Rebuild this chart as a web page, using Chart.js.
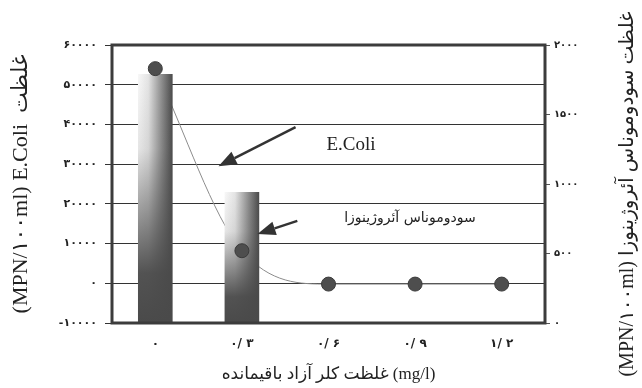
<!DOCTYPE html>
<html>
<head>
<meta charset="utf-8">
<script src="https://cdn.jsdelivr.net/npm/chart.js@4.4.0/dist/chart.umd.min.js"></script>
<style>
  html, body { margin: 0; background: #fff; }
</style>
</head>
<body>
<canvas id="chart" width="642" height="388"></canvas>
<script>
// chart data
const chlorineLabels = ['۰', '۰/ ۳', '۰/ ۶', '۰/ ۹', '۱/ ۲'];
const ecoliValues = [52700, 23000, null, null, null];          // left axis
const pseudomonasValues = [1830, 520, 280, 280, 280];          // right axis
const leftRange = [-10000, 60000, 10000];
const rightRange = [0, 2000, 500];

// callouts, placed in data units (category index, left axis value)
const callouts = [
    { text: 'E.Coli', at: [2.26, 34800], tail: [1.62, 39300], head: [0.73, 29500], font: '19px "Liberation Serif"' },
    { text: 'سودوموناس آئروژینوزا', at: [2.94, 16450], tail: [1.64, 15700], head: [1.18, 12400], font: '14px "DejaVu Sans"' }
];

const serif = '"Liberation Serif", "DejaVu Sans", serif';
const faDigits = '۰۱۲۳۴۵۶۷۸۹';
const toFa = v => String(v).replace(/\d/g, d => faDigits[d]);

function barShade(context) {
    const chart = context.chart;
    const v = context.raw;
    if (!chart.chartArea || v == null) return '#555';
    const xs = chart.scales.x, ys = chart.scales.y;
    const w = xs.width / chlorineLabels.length * 0.4;
    const cx = xs.getPixelForValue(context.dataIndex);
    const left = cx - w / 2, right = cx + w / 2;
    const top = ys.getPixelForValue(v), bottom = ys.getPixelForValue(leftRange[0]);

    const off = document.createElement('canvas');
    off.width = chart.width;
    off.height = chart.height;
    const g = off.getContext('2d');
    const hg = g.createLinearGradient(left, 0, right, 0);
    hg.addColorStop(0, '#f8f8f8');
    hg.addColorStop(0.3, '#e4e4e4');
    hg.addColorStop(0.7, '#8a8a8a');
    hg.addColorStop(1, '#4a4a4a');
    g.fillStyle = hg;
    g.fillRect(left - 2, top - 2, w + 4, bottom - top + 4);
    const vg = g.createLinearGradient(0, top, 0, bottom);
    vg.addColorStop(0, 'rgba(74,74,74,0)');
    vg.addColorStop(0.3, 'rgba(74,74,74,0.1)');
    vg.addColorStop(0.8, 'rgba(74,74,74,0.95)');
    vg.addColorStop(1, 'rgba(74,74,74,1)');
    g.fillStyle = vg;
    g.fillRect(left - 2, top - 2, w + 4, bottom - top + 4);
    return chart.ctx.createPattern(off, 'no-repeat');
}

const extras = {
    id: 'extras',
    afterDatasetsDraw(chart) {
        const c = chart.ctx;
        const a = chart.chartArea;
        const xs = chart.scales.x, ys = chart.scales.y;

        // frame
        c.save();
        c.strokeStyle = '#3c3c3c';
        c.lineWidth = 3;
        c.strokeRect(a.left, a.top, a.right - a.left, a.bottom - a.top);

        // arrows + labels
        callouts.forEach(co => {
            const tx = xs.getPixelForValue(co.tail[0]), ty = ys.getPixelForValue(co.tail[1]);
            const hx = xs.getPixelForValue(co.head[0]), hy = ys.getPixelForValue(co.head[1]);
            const ang = Math.atan2(hy - ty, hx - tx);
            const len = 18, half = 7;
            const bx = hx - len * Math.cos(ang), by = hy - len * Math.sin(ang);
            c.strokeStyle = '#333';
            c.fillStyle = '#333';
            c.lineWidth = 2.5;
            c.beginPath();
            c.moveTo(tx, ty);
            c.lineTo(bx, by);
            c.stroke();
            c.beginPath();
            c.moveTo(hx, hy);
            c.lineTo(bx + half * Math.sin(ang), by - half * Math.cos(ang));
            c.lineTo(bx - half * Math.sin(ang), by + half * Math.cos(ang));
            c.closePath();
            c.fill();

            c.font = co.font;
            c.fillStyle = '#222';
            c.textAlign = 'center';
            c.textBaseline = 'middle';
            c.fillText(co.text, xs.getPixelForValue(co.at[0]), ys.getPixelForValue(co.at[1]));
        });
        c.restore();
    },
    afterDraw(chart) {
        // right axis title, read bottom to top like the left one
        const c = chart.ctx;
        c.save();
        c.translate(chart.width - 14, chart.height / 2);
        c.rotate(-Math.PI / 2);
        c.font = '20px ' + serif;
        c.fillStyle = '#222';
        c.textAlign = 'center';
        c.textBaseline = 'middle';
        c.fillText('(MPN/۱۰۰ml) غلظت سودوموناس آئروژینوزا', 0, 0);
        c.restore();
    }
};

const ctx = document.getElementById('chart').getContext('2d');
new Chart(ctx, {
    data: {
        labels: chlorineLabels,
        datasets: [
            {
                type: 'line',
                label: 'سودوموناس آئروژینوزا',
                data: pseudomonasValues,
                yAxisID: 'y1',
                order: 0,
                showLine: false,
                pointRadius: 7,
                pointBackgroundColor: '#4e4e4e',
                pointBorderColor: '#3a3a3a',
                pointBorderWidth: 1
            },
            {
                type: 'bar',
                label: 'E.Coli',
                data: ecoliValues,
                yAxisID: 'y',
                base: leftRange[0],
                order: 1,
                barPercentage: 0.4,
                categoryPercentage: 1,
                backgroundColor: barShade
            },
            {
                type: 'line',
                label: 'curve',
                data: pseudomonasValues,
                yAxisID: 'y1',
                order: 2,
                borderColor: '#8c8c8c',
                borderWidth: 1,
                pointRadius: 0,
                cubicInterpolationMode: 'monotone',
                fill: false
            }
        ]
    },
    options: {
        responsive: false,
        animation: false,
        devicePixelRatio: 1,
        layout: { padding: { top: 45 } },
        plugins: { legend: { display: false }, tooltip: { enabled: false } },
        scales: {
            x: {
                grid: { display: false },
                border: { display: false },
                ticks: { color: '#222', padding: 6, font: { family: '"DejaVu Sans"', size: 12, weight: 'bold' } },
                title: {
                    display: true,
                    text: 'غلظت کلر آزاد باقیمانده (mg/l)',
                    color: '#222',
                    font: { family: serif, size: 17 },
                    padding: { bottom: 3 }
                },
                afterFit: s => { s.height = 65; }
            },
            y: {
                position: 'left',
                min: leftRange[0],
                max: leftRange[1],
                ticks: {
                    stepSize: leftRange[2],
                    callback: v => toFa(v),
                    color: '#222',
                    padding: 8,
                    font: { family: '"DejaVu Sans"', size: 11, weight: 'bold' }
                },
                grid: { color: '#333', lineWidth: 1, tickLength: 7 },
                border: { display: false },
                title: {
                    display: true,
                    text: '(MPN/۱۰۰ml) E.Coli  غلظت',
                    color: '#222',
                    font: { family: serif, size: 22 },
                    padding: { top: 8 }
                },
                afterFit: s => { s.width = 112; }
            },
            y1: {
                position: 'right',
                min: rightRange[0],
                max: rightRange[1],
                ticks: {
                    stepSize: rightRange[2],
                    callback: v => toFa(v),
                    color: '#222',
                    padding: 4,
                    font: { family: '"DejaVu Sans"', size: 10, weight: 'bold' }
                },
                grid: { drawOnChartArea: false, color: '#555', tickLength: 5 },
                border: { display: false },
                afterFit: s => { s.width = 97; }
            }
        }
    },
    plugins: [extras]
});
</script>
</body>
</html>
